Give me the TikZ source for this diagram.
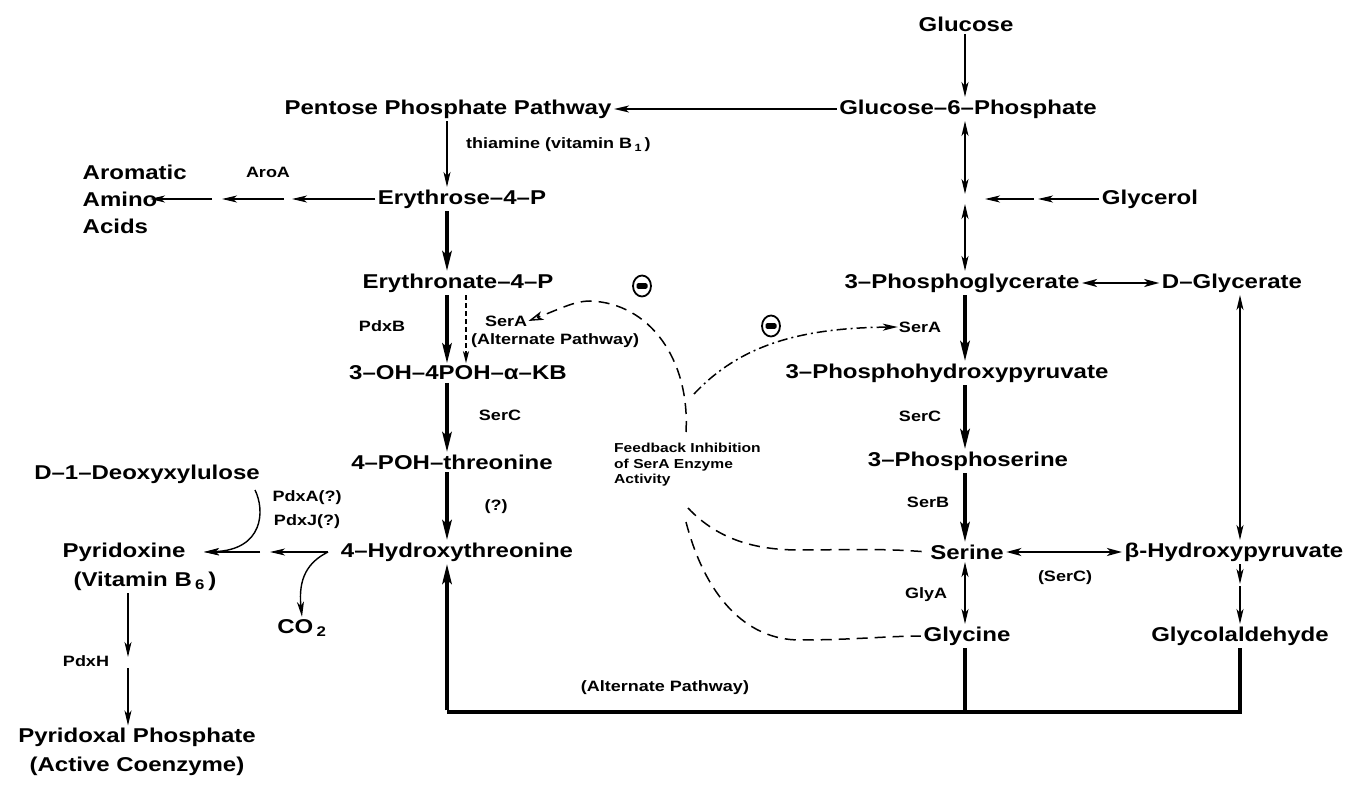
\documentclass[tikz,border=0pt]{standalone}
\usepackage{fontspec}
\setmainfont{Liberation Sans}[FakeStretch=1.2]
\usetikzlibrary{arrows.meta,calc,shapes.geometric}
\begin{document}
\begin{tikzpicture}[x=1pt,y=-1pt,
  big/.style={font=\bfseries\fontsize{20}{27}\selectfont, inner sep=2.5pt},
  lab/.style={font=\bfseries\fontsize{15}{17}\selectfont, inner sep=1pt},
  fb/.style={font=\bfseries\fontsize{13}{15.5}\selectfont, inner sep=0pt, align=left, anchor=north west},
  thn/.style={line width=1.4pt},
  thk/.style={line width=3.2pt},
  ThinTip/.tip={Stealth[length=15pt,width=7pt,inset=4pt]},
  MidTip/.tip={Stealth[length=15pt,width=8pt,inset=4pt]},
  ThickTip/.tip={Stealth[length=20pt,width=9.5pt,inset=4pt]},
  OpenTip/.tip={Stealth[open,length=15pt,width=9pt,inset=4pt]},
  thinarr/.style={thn,-ThinTip},
  thindbl/.style={thn,ThinTip-ThinTip},
  middbl/.style={line width=2pt,MidTip-MidTip},
  thickarr/.style={thk,-ThickTip},
  dsh/.style={line width=1.5pt,dash pattern=on 11pt off 7pt},
  dshdot/.style={line width=1.5pt,dash pattern=on 10pt off 4pt on 2pt off 4pt},
  inhib/.style={ellipse, draw, line width=1.8pt, minimum width=18pt, minimum height=21pt, inner sep=0pt,
    path picture={\fill[rounded corners=1.5pt] ([xshift=-5.5pt,yshift=-2.8pt]path picture bounding box.center) rectangle ([xshift=5.5pt,yshift=2.8pt]path picture bounding box.center);}}
]
\path[use as bounding box] (0,0) rectangle (1353,786);

% ---------- main nodes ----------
\node[big] (glucose) at (966,24) {Glucose};
\node[big] (g6p) at (968,109) {Glucose–6–Phosphate};
\node[big] (ppp) at (448,109) {Pentose Phosphate Pathway};
\node[big] (e4p) at (462,199) {Erythrose–4–P};
\node[big,align=left,anchor=west] (aro) at (80,199) {Aromatic\\Amino\\Acids};
\node[big] (eon) at (458,283) {Erythronate–4–P};
\node[big] (kb) at (458,373) {3–OH–4POH–α–KB};
\node[big] (poh) at (452,462) {4–POH–threonine};
\node[big] (dx) at (147,474) {D–1–Deoxyxylulose};
\node[big] (hyt) at (457,552) {4–Hydroxythreonine};
\node[big] (pyr) at (124,552) {Pyridoxine};
\node[big] (vb6) at (145,581) {(Vitamin B\,\textsubscript{6}\,)};
\node[big] (co2) at (302,628) {CO\,\textsubscript{2}};
\node[big,align=center,font=\bfseries\fontsize{20}{29}\selectfont] (plp) at (137,752) {Pyridoxal Phosphate\\(Active Coenzyme)};
\node[big] (glycerol) at (1150,199) {Glycerol};
\node[big] (pg) at (962,283) {3–Phosphoglycerate};
\node[big] (dgly) at (1232,283) {D–Glycerate};
\node[big] (php) at (947,373) {3–Phosphohydroxypyruvate};
\node[big] (ps) at (968,461) {3–Phosphoserine};
\node[big] (ser) at (967,552) {Serine};
\node[big] (bhp) at (1234,552) {β-Hydroxypyruvate};
\node[big] (gly) at (967,636) {Glycine};
\node[big] (glyald) at (1240,636) {Glycolaldehyde};

% ---------- small labels ----------
\node[lab,anchor=west] (thia) at (465,145) {thiamine (vitamin B\,\textsubscript{1}\,)};
\node[lab] (aroa) at (268,172) {AroA};
\node[lab] (pdxb) at (382,326) {PdxB};
\node[lab,anchor=west] (serAl) at (484,321) {SerA};
\node[lab,anchor=west] (altl) at (470,341) {(Alternate Pathway)};
\node[lab] (sercl) at (500,415) {SerC};
\node[lab] (ql) at (496,507) {(?)};
\node[lab] (pdxa) at (307,498) {PdxA(?)};
\node[lab] (pdxj) at (307,522) {PdxJ(?)};
\node[lab] (pdxh) at (86,661) {PdxH};
\node[lab] (serAr) at (920,327) {SerA};
\node[lab] (sercr) at (920,416) {SerC};
\node[lab] (serb) at (928,502) {SerB};
\node[lab] (glya) at (926,595) {GlyA};
\node[lab] (sercb) at (1065,578) {(SerC)};
\node[lab] (altb) at (665,688) {(Alternate Pathway)};
\node[fb] (fbt) at (614,443) {Feedback Inhibition\\of SerA Enzyme\\Activity};

\node[inhib] (m1) at (642,286) {};
\node[inhib] (m2) at (771,326) {};

% ---------- coordinates ----------
\coordinate (cL) at (447,0);
\coordinate (cL2) at (466,0);
\coordinate (cR) at (965,0);
\coordinate (cRR) at (1240,0);
\coordinate (mid) at (965,199);

% ---------- top right ----------
\draw[thinarr] (cR |- glucose.south) -- (cR |- g6p.north);
\draw[thinarr] (g6p.west) -- (ppp.east);
\draw[thindbl] (cR |- g6p.south) -- ([yshift=5pt]mid);
\draw[thindbl] ([yshift=-5pt]mid) -- (cR |- pg.north);
\coordinate (gl1) at (1038,199);
\coordinate (gl2) at (1034,199);
\coordinate (gl3) at (985,199);
\draw[thinarr] (glycerol.west) -- (gl1);
\draw[thinarr] (gl2) -- (gl3);

% ---------- left column ----------
\draw[thinarr] (cL |- ppp.south) -- (cL |- e4p.north);
\coordinate (a2) at (292,199);
\coordinate (a3) at (284,199);
\coordinate (a4) at (222,199);
\coordinate (a5) at (212,199);
\coordinate (a6) at (150,199);
\draw[thinarr] (e4p.west) -- (a2);
\draw[thinarr] (a3) -- (a4);
\draw[thinarr] (a5) -- (a6);
\draw[thickarr] (cL |- e4p.south) -- (cL |- eon.north);
\draw[thickarr] (cL |- eon.south) -- (cL |- kb.north);
\draw[line width=1.2pt,dash pattern=on 5pt off 3pt,-{Stealth[length=12pt,width=6pt,inset=3pt]}] (cL2 |- eon.south) -- (cL2 |- kb.north);
\draw[thickarr] (cL |- kb.south) -- (cL |- poh.north);
\draw[thickarr] (cL |- poh.south) -- (cL |- hyt.north);

% ---------- pyridoxine ----------
\coordinate (p1) at (328,552);
\coordinate (p2) at (270,552);
\coordinate (p3) at (260,552);
\coordinate (p4) at (204,552);
\draw[thinarr] (p1) -- (p2);
\draw[thinarr] (p3) -- (p4);
\coordinate (dxs) at (255,490);
\draw[thn,-ThinTip] (dxs) .. controls (265,510) and (264,550) .. (p4);
\draw[thn,-ThinTip] (p1) .. controls (308,562) and (298,578) .. (co2.north);
\coordinate (b1) at (128,657);
\coordinate (b2) at (128,668);
\draw[thinarr] (vb6.south -| b1) -- (b1);
\draw[thinarr] (b2) -- (b2 |- plp.north);

% ---------- right column ----------
\draw[middbl] (pg.east) -- (dgly.west);
\draw[thickarr] (cR |- pg.south) -- (cR |- php.north);
\draw[thickarr] (cR |- php.south) -- (cR |- ps.north);
\draw[thickarr] (cR |- ps.south) -- (cR |- ser.north);
\draw[thindbl] (cR |- ser.south) -- (cR |- gly.north);
\draw[middbl] (ser.east) -- (bhp.west);
\draw[thindbl] (cRR |- dgly.south) -- (cRR |- bhp.north);
\coordinate (g1) at (1240,584);
\coordinate (g2) at (1240,586);
\draw[thinarr] (cRR |- bhp.south) -- (g1);
\draw[thinarr] (g2) -- (cRR |- glyald.north);

% ---------- bottom alternate pathway ----------
\coordinate (bl) at (447,712);
\coordinate (bm) at (965,712);
\coordinate (br) at (1240,712);
\draw[thk] (cR |- gly.south) -- (bm);
\draw[thk,line join=miter] (cRR |- glyald.south) -- (br) -- (bl);
\draw[thickarr] ([yshift=1.6pt]bl) -- (cL |- hyt.south);

% ---------- feedback curves ----------
\coordinate (f1) at (686,432);
\coordinate (f2) at (694,394);
\coordinate (f3) at (688,508);
\coordinate (f4) at (686,522);
\draw[dsh,-OpenTip] (f1) .. controls (690,360) and (650,303) .. (590,301) .. controls (575,301) and (562,308) .. (serAl.east);
\draw[dshdot,-ThinTip] (f2) .. controls (740,345) and (800,328) .. (serAr.west);
\draw[dsh] (f3) .. controls (720,542) and (760,550) .. (800,550) .. controls (840,550) and (880,548) .. (ser.west);
\draw[dsh] (f4) .. controls (705,595) and (745,640) .. (800,640) .. controls (850,640) and (890,636) .. (gly.west);

\end{tikzpicture}
\end{document}
